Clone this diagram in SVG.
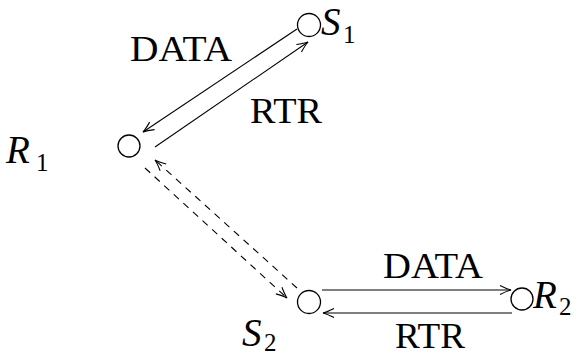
<svg xmlns="http://www.w3.org/2000/svg" width="577" height="356" viewBox="0 0 577 356">
<style>
.node{fill:none;stroke:#000;stroke-width:1.3}
.edge{fill:none;stroke:#000;stroke-width:1.1}
.dash{stroke-dasharray:7 6}
text{font-family:'Liberation Serif',serif;fill:#000}
.lbl{font-size:36px}
.m{font-style:italic;font-size:39px}
.sub{font-size:25px}
</style>
<defs>
<marker id="ah" markerWidth="14" markerHeight="12" refX="0" refY="0" viewBox="-12 -6 14 12" orient="auto" markerUnits="userSpaceOnUse">
<path d="M-11,-4.5 Q-4,-1 0,0 Q-4,1 -11,4.5" fill="none" stroke="#000" stroke-width="1.1"/>
</marker>
</defs>
<g id="R1">
<circle class="node" cx="129" cy="146" r="11"/>
<text class="m" x="6" y="163">R</text>
<text class="sub" x="36" y="171">1</text>
</g>
<g id="S1">
<circle class="node" cx="309" cy="25" r="11.5"/>
<text class="m" x="321" y="35">S</text>
<text class="sub" x="343" y="43">1</text>
</g>
<g id="S2">
<circle class="node" cx="309" cy="302" r="11.5"/>
<text class="m" x="242" y="346">S</text>
<text class="sub" x="264" y="351">2</text>
</g>
<g id="R2">
<circle class="node" cx="522" cy="299" r="11"/>
<text class="m" x="533" y="308">R</text>
<text class="sub" x="559" y="315">2</text>
</g>
<g id="connectors">
<line class="edge" x1="297" y1="29" x2="143" y2="132" marker-end="url(#ah)"/>
<line class="edge" x1="155" y1="147" x2="308" y2="42" marker-end="url(#ah)"/>
<line class="edge dash" x1="297" y1="288" x2="155" y2="160" marker-end="url(#ah)"/>
<line class="edge dash" x1="145" y1="168" x2="287" y2="298" marker-end="url(#ah)"/>
<line class="edge" x1="322" y1="290" x2="511" y2="290" marker-end="url(#ah)"/>
<line class="edge" x1="512" y1="313" x2="323" y2="313" marker-end="url(#ah)"/>
</g>
<g id="labels">
<text class="lbl" x="130" y="61" textLength="102" lengthAdjust="spacingAndGlyphs">DATA</text>
<text class="lbl" x="250" y="123" textLength="72" lengthAdjust="spacingAndGlyphs">RTR</text>
<text class="lbl" x="383" y="278" textLength="100" lengthAdjust="spacingAndGlyphs">DATA</text>
<text class="lbl" x="395" y="348" textLength="70" lengthAdjust="spacingAndGlyphs">RTR</text>
</g>
</svg>
